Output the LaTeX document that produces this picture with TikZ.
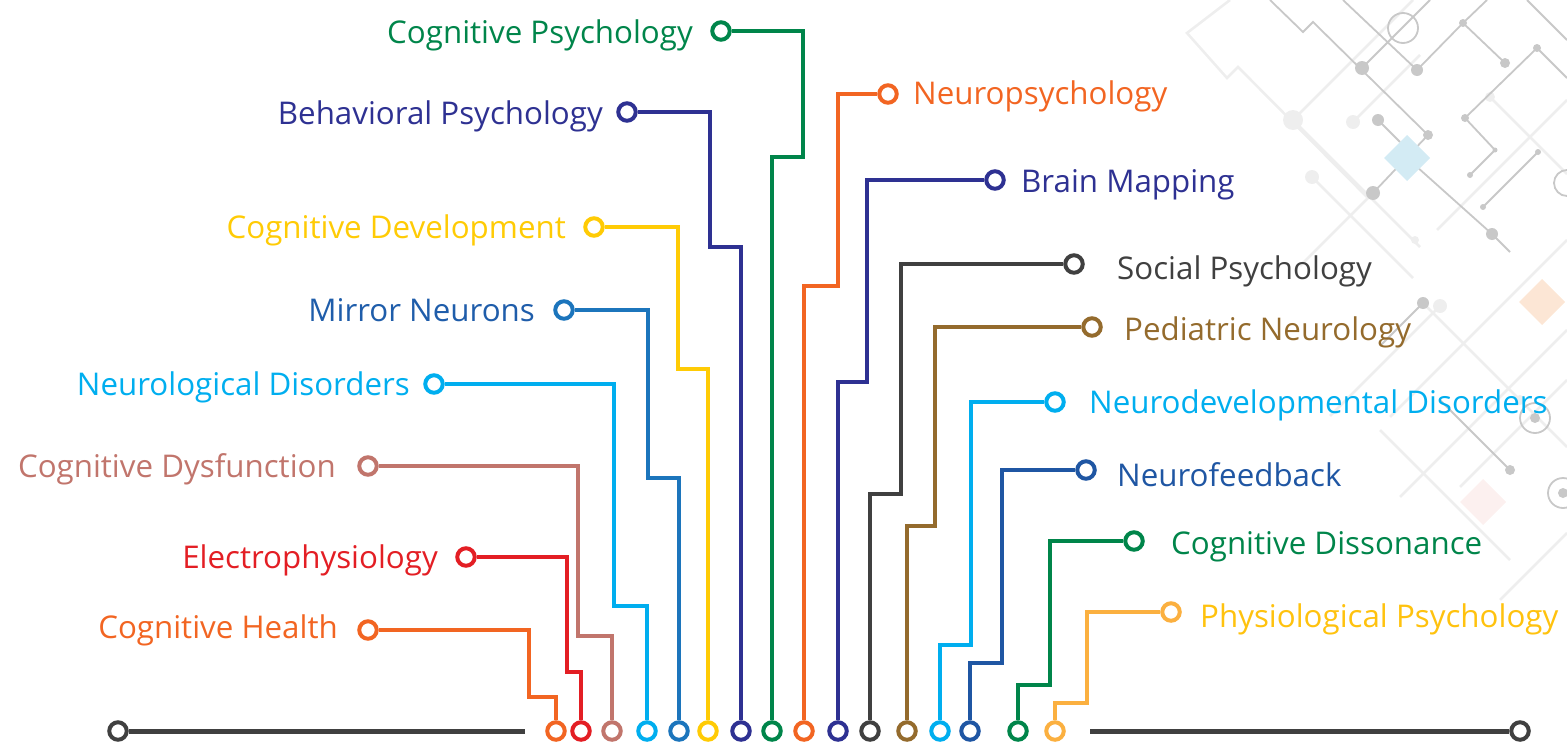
\documentclass[tikz,border=0pt]{standalone}
\usepackage{fontspec}
\setmainfont{Open Sans}
\definecolor{cgreen}{HTML}{00854A}
\definecolor{cdblue}{HTML}{2E3192}
\definecolor{cyellow}{HTML}{FFCB05}
\definecolor{cmblue}{HTML}{1C75BC}
\definecolor{cmbluetext}{HTML}{1F5DAA}
\definecolor{clblue}{HTML}{00AEEF}
\definecolor{crose}{HTML}{C1756C}
\definecolor{cred}{HTML}{E31E24}
\definecolor{corange}{HTML}{F26522}
\definecolor{cgray}{HTML}{404040}
\definecolor{cbrown}{HTML}{946B2D}
\definecolor{cnfblue}{HTML}{1F56A3}
\definecolor{clorange}{HTML}{FBB040}
\definecolor{cpptext}{HTML}{FFC20E}
\definecolor{dmid}{HTML}{C8C8C8}
\definecolor{dpale}{HTML}{EEEEEE}
\definecolor{ddiamb}{HTML}{D3EBF4}
\definecolor{ddiamp}{HTML}{FCE6D5}
\definecolor{ddiamk}{HTML}{FCF0EF}
\begin{document}
\begin{tikzpicture}[x=1pt,y=-1pt,
  lab/.style={inner sep=0pt, font=\fontsize{31.3}{37}\selectfont},
  ring/.style={circle, draw=#1, line width=4pt, fill=white, minimum size=17.5pt, inner sep=0pt},
  wire/.style={draw=#1, line width=4pt},
  baseline/.style={draw=cgray, line width=5pt},
  dm/.style={draw=dmid, line width=1.8pt},
  dp/.style={draw=dpale, line width=2.6pt},
  ddot/.style={fill=dmid},
  pdot/.style={fill=dpale}]
\useasboundingbox (0,0) rectangle (1567,742);

% ---------- background decoration ----------
\draw[dp] (1230,0) -- (1187,33) -- (1227,78) -- (1238,67) -- (1367,197);
\draw[dp] (1293,120) -- (1413,0);
\draw[dp] (1293,120) -- (1420,247);
\draw[dp] (1353,122) -- (1420,55);
\draw[dp] (1312,177) -- (1413,278);
\draw[dp] (1373,193) -- (1300,266);
\draw[dp] (1567,100) -- (1480,187) -- (1437,230);
\draw[dp] (1490,97) -- (1567,174);
\draw[dp] (1440,306) -- (1330,416);
\draw[dp] (1567,240) -- (1390,417);
\draw[dp] (1423,303) -- (1520,400) -- (1567,447);
\draw[dp] (1567,330) -- (1480,417) -- (1400,497);
\draw[dp] (1380,430) -- (1480,530) -- (1510,560);
\draw[dp] (1567,380) -- (1460,487);
\draw[dp] (1500,600) -- (1567,533);
\fill[pdot] (1293,120) circle (10);
\fill[pdot] (1353,122) circle (7);
\fill[pdot] (1312,177) circle (7);
\fill[pdot] (1490,97) circle (5);
\fill[pdot] (1440,306) circle (7);
\fill[pdot] (1415,240) circle (4);
\fill[pdot] (1520,400) circle (5);
\draw[dm] (1270,0) -- (1303,32) -- (1313,22) -- (1428,135);
\draw[dm] (1362,68) -- (1430,0);
\draw[dm] (1343,0) -- (1417,70) -- (1463,23) -- (1487,0);
\draw[dm] (1463,23) -- (1505,63);
\draw[dm] (1403,28) circle (15);
\draw[dm] (1537,48) -- (1465,118) -- (1495,150) -- (1470,175);
\draw[dm] (1537,48) -- (1567,78);
\draw[dm] (1527,0) -- (1567,40);
\draw[dm] (1378,120) -- (1400,142);
\draw[dm] (1428,135) -- (1373,193);
\draw[dm] (1407,158) -- (1492,234) -- (1510,252);
\draw[dm] (1538,152) -- (1483,207);
\draw[dm] (1567,183) circle (13);
\draw[dm] (1423,303) -- (1380,346);
\draw[dm] (1510,470) -- (1440,400);
\draw[dm] (1535,418) circle (15);
\draw[dm] (1563,493) circle (15);
\fill[ddot] (1362,68) circle (7);
\fill[ddot] (1417,70) circle (6);
\fill[ddot] (1463,23) circle (4);
\fill[ddot] (1505,63) circle (5);
\fill[ddot] (1537,48) circle (4);
\fill[ddot] (1465,118) circle (4);
\fill[ddot] (1495,150) circle (2.5);
\fill[ddot] (1470,175) circle (3);
\fill[ddot] (1378,120) circle (6);
\fill[ddot] (1428,135) circle (5);
\fill[ddot] (1373,193) circle (7);
\fill[ddot] (1492,234) circle (6);
\fill[ddot] (1538,152) circle (3);
\fill[ddot] (1483,207) circle (3);
\fill[ddot] (1423,303) circle (6);
\fill[ddot] (1510,470) circle (5);
\fill[ddot] (1535,418) circle (5);
\fill[ddot] (1563,493) circle (5);
\fill[ddiamb] (1407,135) -- (1430,158) -- (1407,181) -- (1384,158) -- cycle;
\fill[ddiamp] (1542,279) -- (1565,302) -- (1542,325) -- (1519,302) -- cycle;
\fill[ddiamk] (1483,479) -- (1506,502) -- (1483,525) -- (1460,502) -- cycle;

% ---------- base line ----------
\node[ring=cgray] (bl) at (118,731) {};
\node[ring=cgray] (br) at (1520,731) {};
\coordinate (bla) at (525,731);
\coordinate (bra) at (1090,731);
\draw[baseline] (bl.east) -- (bla);
\draw[baseline] (bra) -- (br.west);

% ---------- bottom rings ----------
\node[ring=corange]  (b1)  at (556,731) {};
\node[ring=cred]     (b2)  at (581,731) {};
\node[ring=crose]    (b3)  at (612,731) {};
\node[ring=clblue]   (b4)  at (647,731) {};
\node[ring=cmblue]   (b5)  at (679,731) {};
\node[ring=cyellow]  (b6)  at (708,731) {};
\node[ring=cdblue]   (b7)  at (741,731) {};
\node[ring=cgreen]   (b8)  at (772,731) {};
\node[ring=corange]  (b9)  at (804,731) {};
\node[ring=cdblue]   (b10) at (838,731) {};
\node[ring=cgray]    (b11) at (870,731) {};
\node[ring=cbrown]   (b12) at (907,731) {};
\node[ring=clblue]   (b13) at (940,731) {};
\node[ring=cnfblue]  (b14) at (970,731) {};
\node[ring=cgreen]   (b15) at (1018,731) {};
\node[ring=clorange] (b16) at (1055,731) {};

% ---------- left labels ----------
\node[ring=corange] (ch) at (368,630) {};
\node[lab, text=corange, anchor=base east] (cht) at (338,638) {Cognitive Health};
\node[ring=cred] (el) at (466,557) {};
\node[lab, text=cred, anchor=base east] (elt) at (438,568) {Electrophysiology};
\node[ring=crose] (cd) at (368,466) {};
\node[lab, text=crose, anchor=base east] (cdt) at (336,477) {Cognitive Dysfunction};
\node[ring=clblue] (nd) at (434,384) {};
\node[lab, text=clblue, anchor=base east] (ndt) at (410,395) {Neurological Disorders};
\node[ring=cmblue] (mn) at (564,310) {};
\node[lab, text=cmbluetext, anchor=base east] (mnt) at (535,321) {Mirror Neurons};
\node[ring=cyellow] (cdev) at (594,227) {};
\node[lab, text=cyellow, anchor=base east] (cdevt) at (566,238) {Cognitive Development};
\node[ring=cdblue] (bp) at (627,112) {};
\node[lab, text=cdblue, anchor=base east] (bpt) at (603,124) {Behavioral Psychology};
\node[ring=cgreen] (cp) at (721,31) {};
\node[lab, text=cgreen, anchor=base east] (cpt) at (693,43) {Cognitive Psychology};

% ---------- right labels ----------
\node[ring=corange] (np) at (888,94) {};
\node[lab, text=corange, anchor=base west] (npt) at (913,104) {Neuropsychology};
\node[ring=cdblue] (bm) at (995,180) {};
\node[lab, text=cdblue, anchor=base west] (bmt) at (1021,192) {Brain Mapping};
\node[ring=cgray] (sp) at (1074,264) {};
\node[lab, text=cgray, anchor=base west] (spt) at (1117,279) {Social Psychology};
\node[ring=cbrown] (pn) at (1092,327) {};
\node[lab, text=cbrown, anchor=base west] (pnt) at (1124,340) {Pediatric Neurology};
\node[ring=clblue] (ndd) at (1055,402) {};
\node[lab, text=clblue, anchor=base west] (nddt) at (1089,413) {Neurodevelopmental Disorders};
\node[ring=cnfblue] (nf) at (1086,470) {};
\node[lab, text=cnfblue, anchor=base west] (nft) at (1117,486) {Neurofeedback};
\node[ring=cgreen] (cds) at (1134,541) {};
\node[lab, text=cgreen, anchor=base west] (cdst) at (1171,554) {Cognitive Dissonance};
\node[ring=clorange] (pp) at (1171,612) {};
\node[lab, text=cpptext, anchor=base west] (ppt) at (1200,627) {Physiological Psychology};

% ---------- connectors ----------
\draw[wire=corange]  (ch.east)   -| (529,697) -| (b1.north);
\draw[wire=cred]     (el.east)   -| (567,672) -| (b2.north);
\draw[wire=crose]    (cd.east)   -| (578,636) -| (b3.north);
\draw[wire=clblue]   (nd.east)   -| (614,606) -| (b4.north);
\draw[wire=cmblue]   (mn.east)   -| (648,478) -| (b5.north);
\draw[wire=cyellow]  (cdev.east) -| (678,369) -| (b6.north);
\draw[wire=cdblue]   (bp.east)   -| (710,247) -| (b7.north);
\draw[wire=cgreen]   (cp.east)   -| (803,157) -| (b8.north);
\draw[wire=corange]  (np.west)   -| (838,286) -| (b9.north);
\draw[wire=cdblue]   (bm.west)   -| (867,382) -| (b10.north);
\draw[wire=cgray]    (sp.west)   -| (901,494) -| (b11.north);
\draw[wire=cbrown]   (pn.west)   -| (935,526) -| (b12.north);
\draw[wire=clblue]   (ndd.west)  -| (971,645) -| (b13.north);
\draw[wire=cnfblue]  (nf.west)   -| (1002,663) -| (b14.north);
\draw[wire=cgreen]   (cds.west)  -| (1050,685) -| (b15.north);
\draw[wire=clorange] (pp.west)   -| (1087,703) -| (b16.north);
\end{tikzpicture}
\end{document}
